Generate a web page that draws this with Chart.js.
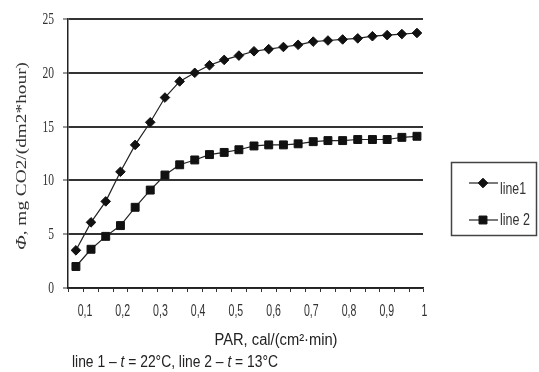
<!DOCTYPE html>
<html>
<head>
<meta charset="utf-8">
<script src="https://cdn.jsdelivr.net/npm/chart.js@4"></script>
<style>
  html, body { margin: 0; padding: 0; background: #fff; }
  canvas { display: block; }
</style>
</head>
<body>
<canvas id="c" width="539" height="372"></canvas>
<script>
// ---- data ----
const parValues = [0.076, 0.116, 0.155, 0.194, 0.233, 0.273, 0.312, 0.351, 0.391, 0.430, 0.469, 0.508,
                   0.548, 0.587, 0.626, 0.665, 0.705, 0.744, 0.783, 0.823, 0.862, 0.901, 0.940, 0.980];
const line1 = [3.5, 6.1, 8.05, 10.8, 13.3, 15.4, 17.7, 19.2, 20.0, 20.7, 21.2, 21.6,
               22.0, 22.2, 22.4, 22.6, 22.9, 23.0, 23.1, 23.2, 23.4, 23.5, 23.6, 23.7];
const line2 = [2.0, 3.6, 4.8, 5.8, 7.5, 9.1, 10.5, 11.45, 11.9, 12.4, 12.6, 12.85,
               13.2, 13.3, 13.3, 13.4, 13.6, 13.7, 13.7, 13.8, 13.8, 13.8, 14.0, 14.1];
const seriesNames = ['line1', 'line 2'];
const xTickValues = [0.1, 0.2, 0.3, 0.4, 0.5, 0.6, 0.7, 0.8, 0.9, 1.0];
const xTickLabels = ['0,1', '0,2', '0,3', '0,4', '0,5', '0,6', '0,7', '0,8', '0,9', '1'];
const yTickValues = [0, 5, 10, 15, 20, 25];
const yTitle = ['Φ', ', mg CO2/(dm2*hour)'];
const xTitle = 'PAR, cal/(cm²·min)';
const caption = [['line 1 – ', 0], ['t', 1], [' = 22°C, line 2 – ', 0], ['t', 1], [' = 13°C', 0]];

const X_MIN = 0.055, X_MAX = 0.996;

function toPoints(ys) { return parValues.map((x, i) => ({ x: x, y: ys[i] })); }

// category boundaries for the small tick marks on the x axis
function boundaries() {
  const b = [X_MIN];
  for (let i = 1; i < parValues.length; i++) b.push((parValues[i - 1] + parValues[i]) / 2);
  b.push(X_MAX);
  return b;
}

// draw text squeezed horizontally (the reference uses narrow lettering)
function drawSegments(ctx, segs, x, y, opts) {
  ctx.save();
  let total = 0;
  const widths = segs.map(s => { ctx.font = s[1]; const w = ctx.measureText(s[0]).width; total += w; return w; });
  const along = opts.fit ? opts.fit / total : (opts.sx || 1);
  const across = opts.across || 1;
  ctx.translate(x, y);
  if (opts.rot) ctx.rotate(opts.rot);
  ctx.scale(along, across);
  let start = 0;
  if (opts.align === 'center') start = -total / 2;
  else if (opts.align === 'right') start = -total;
  ctx.textBaseline = 'middle';
  ctx.textAlign = 'left';
  ctx.fillStyle = opts.color || '#222';
  let cx = start;
  segs.forEach((s, i) => { ctx.font = s[1]; ctx.fillText(s[0], cx, 0); cx += widths[i]; });
  ctx.restore();
}

const textPlugin = {
  id: 'textPlugin',
  afterDraw(chart) {
    const ctx = chart.ctx;
    const xs = chart.scales.x, ys = chart.scales.y;
    const serif = '"Liberation Serif", "Times New Roman", serif';
    const sans = '"Liberation Sans", Arial, sans-serif';

    // y tick labels
    yTickValues.forEach(v => {
      drawSegments(ctx, [[String(v), '17px ' + serif]], 54, ys.getPixelForValue(v) + 0.5,
        { align: 'right', sx: 0.68, color: '#333' });
    });
    // x tick labels
    xTickValues.forEach((v, i) => {
      drawSegments(ctx, [[xTickLabels[i], '16px ' + sans]], xs.getPixelForValue(v), 312,
        { align: 'center', sx: 0.66, color: '#333' });
    });
    // y title (rotated)
    drawSegments(ctx, [[yTitle[0], 'italic 17px ' + serif], [yTitle[1], '17px ' + serif]], 22, 156,
      { align: 'center', fit: 188, across: 0.8, rot: -Math.PI / 2, color: '#333' });
    // x title
    drawSegments(ctx, [[xTitle, '16px ' + sans]], 276, 341,
      { align: 'center', fit: 123, color: '#222' });
    // caption
    drawSegments(ctx, caption.map(c => [c[0], (c[1] ? 'italic ' : '') + '16px ' + sans]), 72, 363,
      { align: 'left', fit: 206, color: '#222' });

    // legend
    ctx.save();
    ctx.strokeStyle = '#444';
    ctx.lineWidth = 1.5;
    ctx.strokeRect(451.5, 162.5, 85, 73);
    const entries = [
      { y: 183, ty: 190, ds: chart.data.datasets[0], w: 26 },
      { y: 220, ty: 221, ds: chart.data.datasets[1], w: 30 }
    ];
    entries.forEach(e => {
      ctx.strokeStyle = e.ds.borderColor;
      ctx.lineWidth = e.ds.borderWidth;
      ctx.beginPath();
      ctx.moveTo(469, e.y);
      ctx.lineTo(498, e.y);
      ctx.stroke();
      ctx.fillStyle = e.ds.pointBackgroundColor;
      ctx.strokeStyle = e.ds.pointBorderColor;
      ctx.lineWidth = e.ds.pointBorderWidth;
      Chart.helpers.drawPoint(ctx, { pointStyle: e.ds.pointStyle, radius: e.ds.pointRadius, rotation: 0, borderWidth: e.ds.pointBorderWidth }, 483, e.y);
      drawSegments(ctx, [[e.ds.label, '16px ' + sans]], 500, e.ty, { align: 'left', fit: e.w, color: '#333' });
    });
    ctx.restore();
  }
};

new Chart(document.getElementById('c'), {
  type: 'scatter',
  data: {
    datasets: [
      {
        label: seriesNames[0],
        data: toPoints(line1),
        showLine: true,
        borderColor: '#222',
        borderWidth: 1.2,
        pointStyle: 'rectRot',
        pointRadius: 4.8,
        pointBackgroundColor: '#111',
        pointBorderColor: '#111',
        pointBorderWidth: 1,
        tension: 0
      },
      {
        label: seriesNames[1],
        data: toPoints(line2),
        showLine: true,
        borderColor: '#222',
        borderWidth: 1.2,
        pointStyle: 'rect',
        pointRadius: 5.6,
        pointBackgroundColor: '#111',
        pointBorderColor: '#111',
        pointBorderWidth: 1,
        tension: 0
      }
    ]
  },
  options: {
    responsive: false,
    devicePixelRatio: 1,
    animation: false,
    events: [],
    layout: { padding: { top: 19, right: 116, left: 0, bottom: 0 } },
    plugins: { legend: { display: false }, tooltip: { enabled: false }, title: { display: false } },
    scales: {
      x: {
        type: 'linear',
        min: X_MIN,
        max: X_MAX,
        afterBuildTicks(scale) { scale.ticks = boundaries().map(v => ({ value: v })); },
        afterFit(scale) { scale.height = 84; },
        ticks: { display: false },
        grid: { drawOnChartArea: false, drawTicks: true, tickLength: 4, tickColor: '#333', tickWidth: 1 },
        border: { display: true, color: '#222', width: 1.5 }
      },
      y: {
        type: 'linear',
        min: 0,
        max: 25,
        afterBuildTicks(scale) { scale.ticks = yTickValues.map(v => ({ value: v })); },
        afterFit(scale) { scale.width = 68; },
        ticks: { display: false },
        grid: {
          drawOnChartArea: true,
          drawTicks: true,
          tickLength: 5,
          color: '#333',
          lineWidth: 2,
          tickColor: '#333',
          tickWidth: 1
        },
        border: { display: true, color: '#222', width: 1.5 }
      }
    }
  },
  plugins: [textPlugin]
});
</script>
</body>
</html>
